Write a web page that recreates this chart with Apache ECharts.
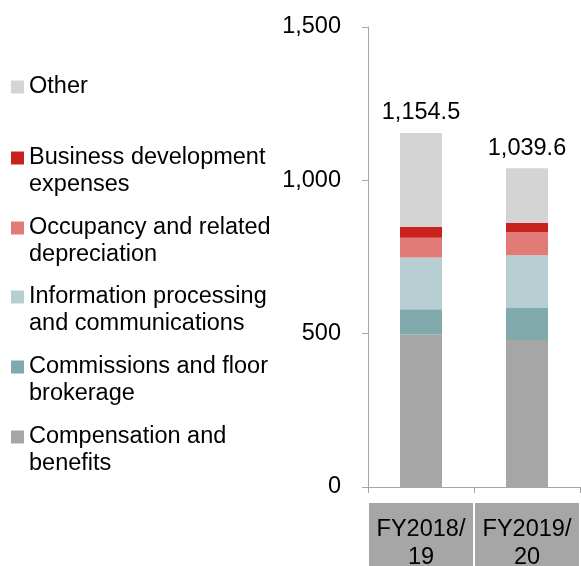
<!DOCTYPE html>
<html>
<head>
<meta charset="utf-8">
<script src="https://cdn.jsdelivr.net/npm/echarts@6/dist/echarts.min.js"></script>
<style>
  html, body { margin: 0; padding: 0; background: #fff; }
  #main { width: 581px; height: 566px; }
</style>
</head>
<body>
<div id="main"></div>
<script>
var categories = ['FY2018/\n19', 'FY2019/\n20']
var compensation = [497, 479]
var commissions = [83, 105]
var infoProcessing = [168, 172]
var occupancy = [65, 75]
var businessDev = [35, 30]
var other = [306.5, 178.6]
var totals = [1154.5, 1039.6]
var yTicks = [0, 500, 1000, 1500]

var font = 'Liberation Sans, Arial, sans-serif'

// series listed bottom to top of the stack
var seriesDefs = [
  { name: 'Compensation and\nbenefits', data: compensation, color: '#a6a6a6', legendY: 437 },
  { name: 'Commissions and floor\nbrokerage', data: commissions, color: '#80a9ab', legendY: 367 },
  { name: 'Information processing\nand communications', data: infoProcessing, color: '#b6ced1', legendY: 297 },
  { name: 'Occupancy and related\ndepreciation', data: occupancy, color: '#e07b78', legendY: 228 },
  { name: 'Business development\nexpenses', data: businessDev, color: '#c9211e', legendY: 158 },
  { name: 'Other', data: other, color: '#d4d4d4', legendY: 87 }
]

var myChart = echarts.init(document.getElementById('main'))

// two-line names get an empty first line so the marker sits on the first text line
var legends = seriesDefs.map(function (s) {
  var twoLine = s.name.indexOf('\n') >= 0
  return {
    data: [s.name],
    orient: 'vertical',
    left: 11,
    top: s.legendY - (twoLine ? 40.5 : 13.5),
    padding: 0,
    icon: 'rect',
    itemWidth: 13,
    itemHeight: 13,
    selectedMode: false,
    formatter: function (name) {
      return twoLine ? '\n' + name : name
    },
    textStyle: {
      fontFamily: font,
      fontSize: 23.5,
      lineHeight: 27,
      color: '#000'
    }
  }
})

var series = seriesDefs.map(function (s, i) {
  var item = {
    name: s.name,
    type: 'bar',
    stack: 'total',
    barWidth: 42,
    data: s.data,
    itemStyle: { color: s.color },
    emphasis: { disabled: true }
  }
  if (i === seriesDefs.length - 1) {
    item.label = {
      show: true,
      position: 'top',
      distance: 8,
      fontFamily: font,
      fontSize: 23.5,
      color: '#000',
      formatter: function (p) {
        return totals[p.dataIndex].toLocaleString('en-US', { minimumFractionDigits: 1, maximumFractionDigits: 1 })
      }
    }
  }
  return item
})

var option = {
  animation: false,
  legend: legends,
  grid: { left: 368, right: 1, top: 27, bottom: 79, outerBoundsMode: 'none' },
  xAxis: {
    type: 'category',
    data: categories,
    axisLine: { lineStyle: { color: '#a6a6a6', width: 1 } },
    axisTick: { show: true, length: 6, lineStyle: { color: '#a6a6a6' } },
    axisLabel: {
      interval: 0,
      margin: 16,
      fontFamily: font,
      fontSize: 23.5,
      lineHeight: 28,
      color: '#000',
      backgroundColor: '#a6a6a6',
      width: 104,
      align: 'center',
      padding: [13, 0, 0, 0]
    }
  },
  yAxis: {
    type: 'value',
    min: yTicks[0],
    max: yTicks[yTicks.length - 1],
    interval: yTicks[1] - yTicks[0],
    splitLine: { show: false },
    axisLine: { show: true, lineStyle: { color: '#a6a6a6', width: 1 } },
    axisTick: { show: true, length: 6, lineStyle: { color: '#a6a6a6' } },
    axisLabel: {
      margin: 27,
      fontFamily: font,
      fontSize: 23.5,
      color: '#000',
      formatter: function (v) { return v.toLocaleString('en-US') }
    }
  },
  series: series
}

myChart.setOption(option)
</script>
</body>
</html>
